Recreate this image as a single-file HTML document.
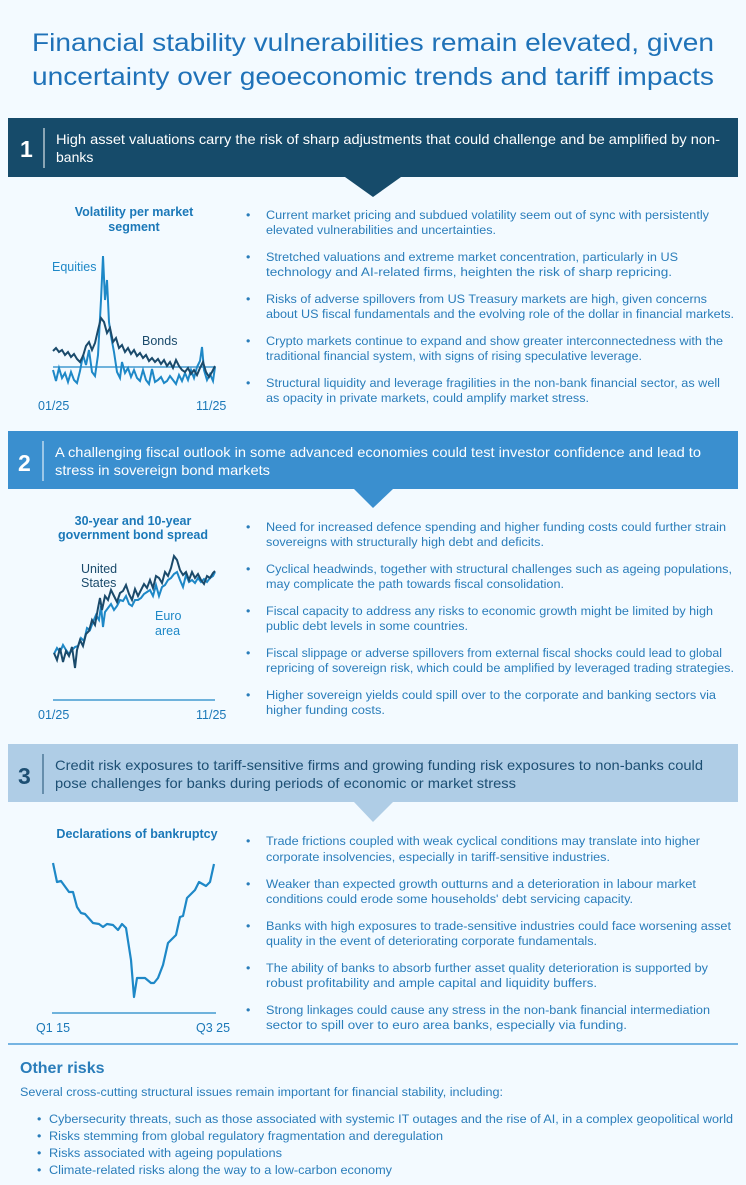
<!DOCTYPE html>
<html><head><meta charset="utf-8"><style>
html,body{margin:0;padding:0;background:#f3faff;}
svg{display:block;font-family:"Liberation Sans",Arial,sans-serif;}
.b{fill:#2a7dba;font-size:12.4px;}
.d{fill:#2a7dba;font-size:12.4px;}
.ct{fill:#1b78b8;font-size:12.5px;font-weight:bold;}
.ax{fill:#1b78b8;font-size:12.5px;}
</style></head><body>
<svg width="746" height="1185" viewBox="0 0 746 1185" xmlns="http://www.w3.org/2000/svg">
<rect width="746" height="1185" fill="#f3faff"/>
<text x="373" y="51" text-anchor="middle" fill="#1f72b8" font-size="25" textLength="682" lengthAdjust="spacingAndGlyphs">Financial stability vulnerabilities remain elevated, given</text>
<text x="373" y="85" text-anchor="middle" fill="#1f72b8" font-size="25" textLength="682" lengthAdjust="spacingAndGlyphs">uncertainty over geoeconomic trends and tariff impacts</text>

<!-- Section 1 header -->
<rect x="8" y="118" width="730" height="59" fill="#164b6a"/>
<polygon points="345,177 401,177 373,197" fill="#164b6a"/>
<text x="20" y="157" fill="#fff" font-size="23" font-weight="bold">1</text>
<line x1="44" y1="128" x2="44" y2="168" stroke="#fff" stroke-width="1"/>
<text x="56" y="144" fill="#fff" font-size="14" textLength="664" lengthAdjust="spacingAndGlyphs">High asset valuations carry the risk of sharp adjustments that could challenge and be amplified by non-</text>
<text x="56" y="162" fill="#fff" font-size="14">banks</text>

<!-- Chart 1 -->
<text x="134" y="216" text-anchor="middle" class="ct">Volatility per market</text>
<text x="134" y="231" text-anchor="middle" class="ct">segment</text>
<text x="52" y="271" fill="#1e88c7" font-size="12.5">Equities</text>
<text x="142" y="345" fill="#1a4a6b" font-size="12.5">Bonds</text>
<line x1="53" y1="367" x2="215" y2="367" stroke="#1e88c7" stroke-width="1.3"/>
<polyline fill="none" stroke="#1e88c7" stroke-width="2" points="53,370 56,381 59,368 62,378 65,373 68,382 71,372 74,380 77,383 80,371 83,355 86,365 89,350 92,372 95,376 98,355 101,300 103,256 105,300 107,280 109,322 111,336 114,352 117,372 120,378 122,362 125,373 128,368 131,377 134,370 137,378 140,381 143,370 146,380 149,384 152,369 155,382 158,380 161,377 164,383 167,381 170,376 173,380 176,384 179,375 182,381 185,373 188,380 191,370 194,378 197,367 200,361 202,347 204,370 207,380 210,374 213,381 215,367"/>
<polyline fill="none" stroke="#1a4a6b" stroke-width="2" points="53,351 56,348 59,352 62,350 65,355 68,352 71,357 74,354 77,359 80,362 83,356 86,346 89,342 92,350 95,343 98,330 101,318 104,322 107,333 110,328 113,342 116,338 119,348 122,345 125,352 128,348 131,354 134,350 137,356 140,353 143,358 146,355 149,361 152,358 155,362 158,359 161,364 164,360 167,366 170,362 173,368 176,360 179,366 182,370 185,372 188,368 191,374 194,370 197,375 200,368 203,362 206,372 209,377 212,372 215,366"/>
<text x="38" y="410" class="ax">01/25</text>
<text x="196" y="410" class="ax">11/25</text>

<!-- Section 1 bullets -->
<g class="b">
<text x="246" y="219">•</text><text x="266" y="219" textLength="443" lengthAdjust="spacingAndGlyphs">Current market pricing and subdued volatility seem out of sync with persistently</text>
<text x="266" y="234" textLength="230" lengthAdjust="spacingAndGlyphs">elevated vulnerabilities and uncertainties.</text>
<text x="246" y="261">•</text><text x="266" y="261" textLength="412" lengthAdjust="spacingAndGlyphs">Stretched valuations and extreme market concentration, particularly in US</text>
<text x="266" y="276" textLength="406" lengthAdjust="spacingAndGlyphs">technology and AI-related firms, heighten the risk of sharp repricing.</text>
<text x="246" y="303">•</text><text x="266" y="303" textLength="441" lengthAdjust="spacingAndGlyphs">Risks of adverse spillovers from US Treasury markets are high, given concerns</text>
<text x="266" y="318" textLength="468" lengthAdjust="spacingAndGlyphs">about US fiscal fundamentals and the evolving role of the dollar in financial markets.</text>
<text x="246" y="345">•</text><text x="266" y="345" textLength="457" lengthAdjust="spacingAndGlyphs">Crypto markets continue to expand and show greater interconnectedness with the</text>
<text x="266" y="360" textLength="376" lengthAdjust="spacingAndGlyphs">traditional financial system, with signs of rising speculative leverage.</text>
<text x="246" y="387">•</text><text x="266" y="387" textLength="454" lengthAdjust="spacingAndGlyphs">Structural liquidity and leverage fragilities in the non-bank financial sector, as well</text>
<text x="266" y="402" textLength="323" lengthAdjust="spacingAndGlyphs">as opacity in private markets, could amplify market stress.</text>
</g>

<!-- Section 2 header -->
<rect x="8" y="431" width="730" height="58" fill="#3a8fcf"/>
<polygon points="354,489 393,489 373,508" fill="#3a8fcf"/>
<text x="18" y="471" fill="#fff" font-size="23" font-weight="bold">2</text>
<line x1="43" y1="441" x2="43" y2="481" stroke="#fff" stroke-width="1"/>
<text x="55" y="457" fill="#fff" font-size="14" textLength="646" lengthAdjust="spacingAndGlyphs">A challenging fiscal outlook in some advanced economies could test investor confidence and lead to</text>
<text x="55" y="475" fill="#fff" font-size="14" textLength="215" lengthAdjust="spacingAndGlyphs">stress in sovereign bond markets</text>

<!-- Chart 2 -->
<text x="133" y="525" text-anchor="middle" class="ct">30-year and 10-year</text>
<text x="133" y="539" text-anchor="middle" class="ct">government bond spread</text>
<text x="81" y="573" fill="#1a4a6b" font-size="12.5">United</text>
<text x="81" y="587" fill="#1a4a6b" font-size="12.5">States</text>
<text x="155" y="620" fill="#1e88c7" font-size="12.5">Euro</text>
<text x="155" y="635" fill="#1e88c7" font-size="12.5">area</text>
<line x1="53" y1="700" x2="215" y2="700" stroke="#1e88c7" stroke-width="1.3"/>
<polyline fill="none" stroke="#1e88c7" stroke-width="2" points="54,654 57,648 60,652 63,645 66,650 69,654 72,650 75,647 78,646 81,638 84,641 87,628 90,630 93,622 96,615 99,620 101,606 103,627 105,612 108,608 111,604 114,610 117,606 120,600 123,601 126,596 129,604 132,606 135,600 138,600 141,598 144,594 147,592 150,590 153,596 156,585 159,596 162,587 165,585 168,580 171,578 174,574 177,572 180,580 183,587 186,575 189,582 192,580 195,583 198,578 201,582 204,579 207,582 210,578 213,576 215,572"/>
<polyline fill="none" stroke="#1a4a6b" stroke-width="2" points="54,653 57,660 60,648 63,662 66,651 69,656 72,647 75,668 77,650 80,640 83,646 86,634 89,631 92,620 95,625 98,608 100,598 102,610 105,596 108,600 111,590 114,596 117,602 120,593 123,591 126,585 129,594 132,600 135,589 138,596 141,590 144,584 147,588 150,580 153,588 156,576 159,578 162,583 165,572 168,576 171,568 174,556 177,560 180,570 183,575 186,572 189,580 192,572 195,578 198,574 201,580 204,584 207,576 210,578 213,573 215,571"/>
<text x="38" y="719" class="ax">01/25</text>
<text x="196" y="719" class="ax">11/25</text>

<g class="b">
<text x="246" y="531">•</text><text x="266" y="531" textLength="460" lengthAdjust="spacingAndGlyphs">Need for increased defence spending and higher funding costs could further strain</text>
<text x="266" y="546" textLength="278" lengthAdjust="spacingAndGlyphs">sovereigns with structurally high debt and deficits.</text>
<text x="246" y="573">•</text><text x="266" y="573" textLength="466" lengthAdjust="spacingAndGlyphs">Cyclical headwinds, together with structural challenges such as ageing populations,</text>
<text x="266" y="588" textLength="298" lengthAdjust="spacingAndGlyphs">may complicate the path towards fiscal consolidation.</text>
<text x="246" y="615">•</text><text x="266" y="615" textLength="447" lengthAdjust="spacingAndGlyphs">Fiscal capacity to address any risks to economic growth might be limited by high</text>
<text x="266" y="630" textLength="202" lengthAdjust="spacingAndGlyphs">public debt levels in some countries.</text>
<text x="246" y="657">•</text><text x="266" y="657" textLength="456" lengthAdjust="spacingAndGlyphs">Fiscal slippage or adverse spillovers from external fiscal shocks could lead to global</text>
<text x="266" y="672" textLength="468" lengthAdjust="spacingAndGlyphs">repricing of sovereign risk, which could be amplified by leveraged trading strategies.</text>
<text x="246" y="699">•</text><text x="266" y="699" textLength="450" lengthAdjust="spacingAndGlyphs">Higher sovereign yields could spill over to the corporate and banking sectors via</text>
<text x="266" y="714" textLength="119" lengthAdjust="spacingAndGlyphs">higher funding costs.</text>
</g>

<!-- Section 3 header -->
<rect x="8" y="744" width="730" height="58" fill="#afcde6"/>
<polygon points="354,802 393,802 373,822" fill="#afcde6"/>
<text x="18" y="784" fill="#1d4f73" font-size="23" font-weight="bold">3</text>
<line x1="43" y1="754" x2="43" y2="794" stroke="#1d4f73" stroke-width="1"/>
<text x="55" y="770" fill="#1d4f73" font-size="14" textLength="648" lengthAdjust="spacingAndGlyphs">Credit risk exposures to tariff-sensitive firms and growing funding risk exposures to non-banks could</text>
<text x="55" y="788" fill="#1d4f73" font-size="14" textLength="461" lengthAdjust="spacingAndGlyphs">pose challenges for banks during periods of economic or market stress</text>

<!-- Chart 3 -->
<text x="137" y="838" text-anchor="middle" class="ct">Declarations of bankruptcy</text>
<line x1="52" y1="1013" x2="216" y2="1013" stroke="#1e88c7" stroke-width="1.3"/>
<polyline fill="none" stroke="#1e88c7" stroke-width="2.2" stroke-linejoin="round" points="53,863 57,882 61,881 69,892 73,892 77,907 81,913 85,914 93,923 99,924 103,927 107,924 113,925 118,930 122,924 126,928 131,960 134,997 137,978 145,978 151,983 154,983 158,978 163,965 168,943 176,935 180,917 183,916 187,898 195,890 199,882 206,886 210,882 214,864"/>
<text x="36" y="1032" class="ax">Q1 15</text>
<text x="196" y="1032" class="ax">Q3 25</text>

<g class="b">
<text x="246" y="845">•</text><text x="266" y="845" textLength="434" lengthAdjust="spacingAndGlyphs">Trade frictions coupled with weak cyclical conditions may translate into higher</text>
<text x="266" y="861" textLength="344" lengthAdjust="spacingAndGlyphs">corporate insolvencies, especially in tariff-sensitive industries.</text>
<text x="246" y="888">•</text><text x="266" y="888" textLength="430" lengthAdjust="spacingAndGlyphs">Weaker than expected growth outturns and a deterioration in labour market</text>
<text x="266" y="903" textLength="367" lengthAdjust="spacingAndGlyphs">conditions could erode some households' debt servicing capacity.</text>
<text x="246" y="930">•</text><text x="266" y="930" textLength="465" lengthAdjust="spacingAndGlyphs">Banks with high exposures to trade-sensitive industries could face worsening asset</text>
<text x="266" y="945" textLength="331" lengthAdjust="spacingAndGlyphs">quality in the event of deteriorating corporate fundamentals.</text>
<text x="246" y="972">•</text><text x="266" y="972" textLength="442" lengthAdjust="spacingAndGlyphs">The ability of banks to absorb further asset quality deterioration is supported by</text>
<text x="266" y="987" textLength="331" lengthAdjust="spacingAndGlyphs">robust profitability and ample capital and liquidity buffers.</text>
<text x="246" y="1014">•</text><text x="266" y="1014" textLength="444" lengthAdjust="spacingAndGlyphs">Strong linkages could cause any stress in the non-bank financial intermediation</text>
<text x="266" y="1029" textLength="361" lengthAdjust="spacingAndGlyphs">sector to spill over to euro area banks, especially via funding.</text>
</g>

<line x1="8" y1="1044" x2="738" y2="1044" stroke="#2a8ad0" stroke-width="1.3"/>
<text x="20" y="1073" fill="#2a7dba" font-size="16" font-weight="bold">Other risks</text>
<g class="b">
<text x="20" y="1096" textLength="483" lengthAdjust="spacingAndGlyphs">Several cross-cutting structural issues remain important for financial stability, including:</text>
<text x="37" y="1123">•</text><text x="49" y="1123" textLength="684" lengthAdjust="spacingAndGlyphs">Cybersecurity threats, such as those associated with systemic IT outages and the rise of AI, in a complex geopolitical world</text>
<text x="37" y="1140">•</text><text x="49" y="1140" textLength="394" lengthAdjust="spacingAndGlyphs">Risks stemming from global regulatory fragmentation and deregulation</text>
<text x="37" y="1157">•</text><text x="49" y="1157" textLength="233" lengthAdjust="spacingAndGlyphs">Risks associated with ageing populations</text>
<text x="37" y="1174">•</text><text x="49" y="1174" textLength="343" lengthAdjust="spacingAndGlyphs">Climate-related risks along the way to a low-carbon economy</text>
</g>
</svg>
</body></html>
